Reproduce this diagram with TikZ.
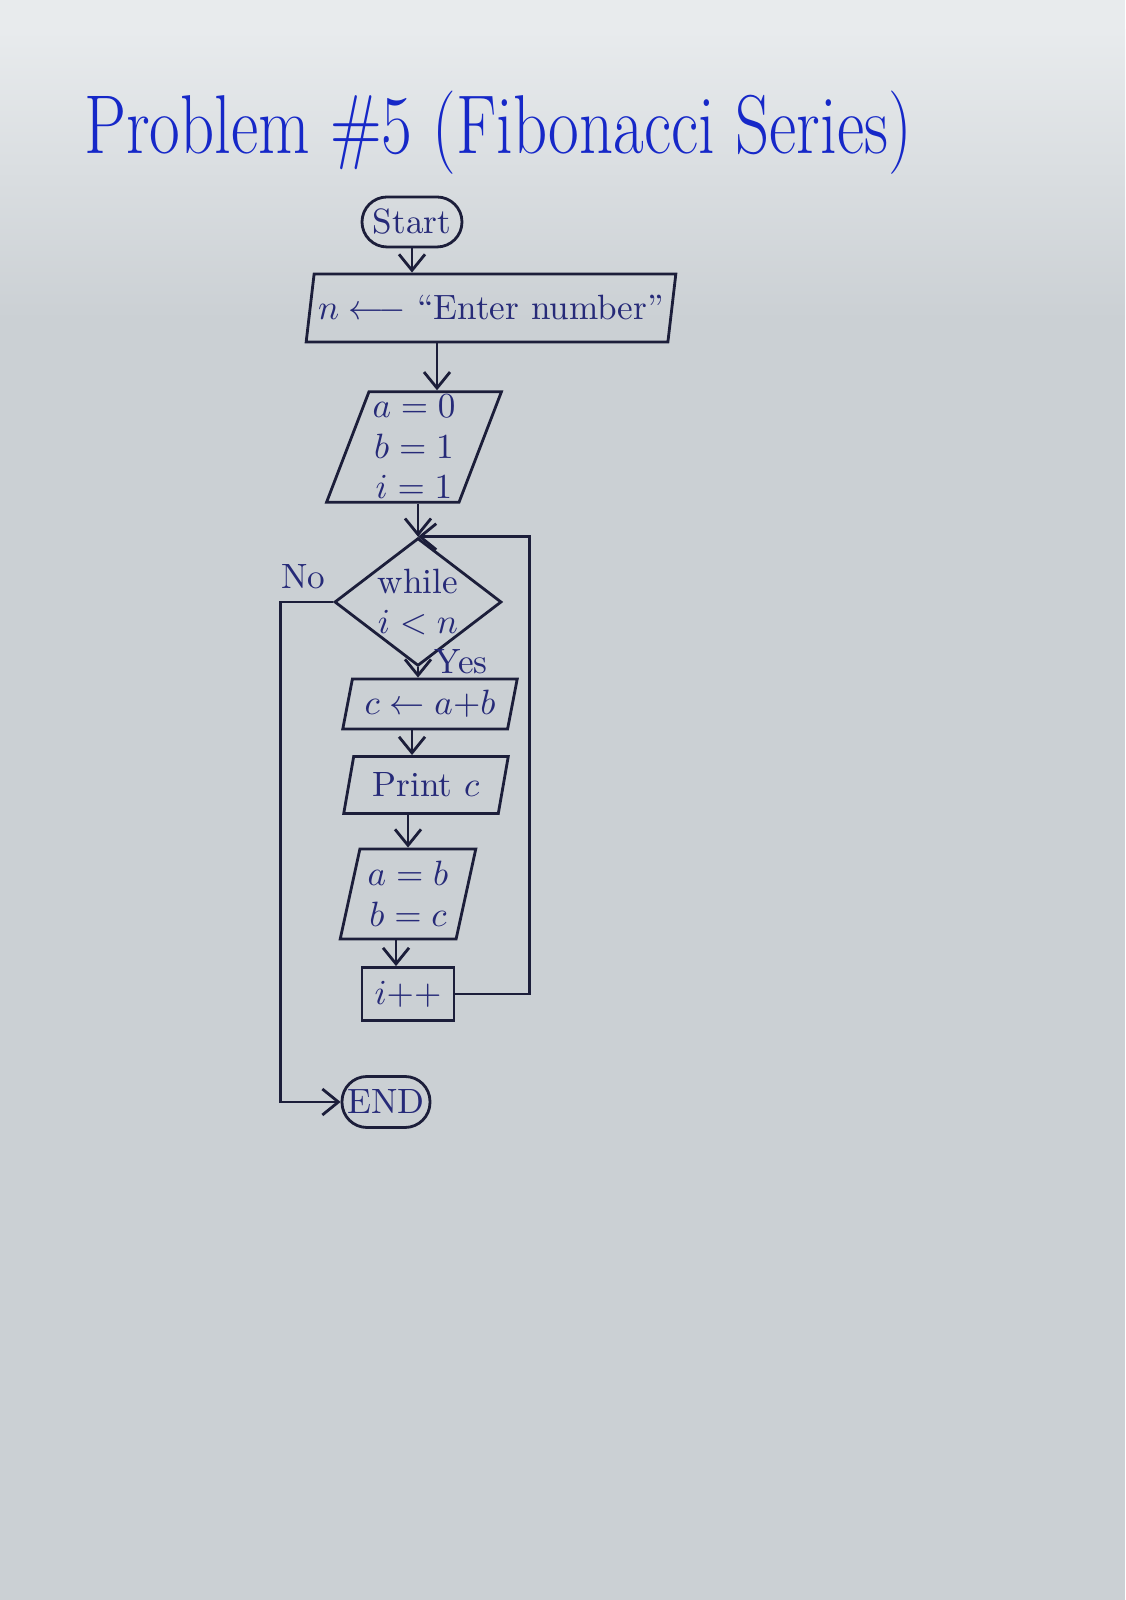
\documentclass[tikz,border=0pt]{standalone}
\usepackage{amsmath}
\usepackage{tikz}
\usetikzlibrary{shapes.geometric,arrows.meta,positioning}

\definecolor{paper}{RGB}{203,208,212}
\definecolor{paperlight}{RGB}{232,235,237}
\definecolor{ink}{RGB}{28,30,58}
\definecolor{pen}{RGB}{38,42,120}
\definecolor{titleblue}{RGB}{22,40,200}

\begin{document}
\begin{tikzpicture}[
        ->,
        >={Straight Barb[length=1.6mm,width=2.6mm]},
        line width=0.8pt,
        ink,
        every node/.style={text=pen, align=center, font=\fontsize{10}{11.5}\selectfont},
        term/.style={draw=ink, rectangle, rounded corners=2.5mm, inner sep=1pt},
        io/.style={draw=ink, trapezium, trapezium left angle=76, trapezium right angle=104,
                   trapezium stretches=true, inner sep=1pt},
        proc/.style={draw=ink, rectangle, inner sep=1pt},
        cond/.style={draw=ink, diamond, aspect=1.3, inner sep=0pt}
    ]
    % sheet of paper
    \fill[paper, -] (0,0) rectangle (11.25,16);
    \shade[-, top color=paperlight, bottom color=paper] (0,12.8) rectangle (11.25,15.7);
    \fill[paperlight, -] (0,15.7) rectangle (11.25,16);
    \useasboundingbox (0,0) rectangle (11.25,16);

    \node[font=\fontsize{19}{22}\selectfont, text=titleblue, yscale=1.25] (T) at (4.98,14.67)
        {Problem \#5 (Fibonacci Series)};

    \node[term, minimum width=1cm, minimum height=0.5cm] (S) at (4.12,13.78) {Start};
    \node[io, minimum width=3.7cm, minimum height=0.68cm] (N) [below of=S, node distance=0.86cm, xshift=0.79cm]
        {$n \longleftarrow$ ``Enter number''};
    \node[io, trapezium left angle=69, trapezium right angle=111, minimum width=1.59cm, minimum height=1.1cm]
        (I) [below of=N, node distance=1.39cm, xshift=-0.77cm] {$a=0$\\$b=1$\\$i=1$};
    \node[cond, minimum width=1.67cm, minimum height=1.26cm] (W) [below of=I, node distance=1.55cm, xshift=0.04cm]
        {while\\$i<n$};
    \node[io, minimum width=1.75cm, minimum height=0.5cm] (C) [below of=W, node distance=1.02cm, xshift=0.12cm]
        {$c \leftarrow a{+}b$};
    \node[io, minimum width=1.65cm, minimum height=0.57cm] (P) [below of=C, node distance=0.81cm, xshift=-0.04cm]
        {Print $c$};
    \node[io, minimum width=1.36cm, minimum height=0.9cm] (AB) [below of=P, node distance=1.09cm, xshift=-0.18cm]
        {$a=b$\\$b=c$};
    \node[proc, minimum width=0.92cm, minimum height=0.53cm] (INC) [below of=AB, node distance=1.0cm]
        {$i{+}{+}$};
    \node[term, minimum width=0.88cm, minimum height=0.51cm] (E) [below of=INC, node distance=1.08cm, xshift=-0.22cm]
        {END};

        % main flow
        \path (S.south) edge (S.south |- N.north)
            ([xshift=0.23cm]I.north |- N.south) edge ([xshift=0.23cm]I.north)
            (W.north |- I.south) edge (W.north)
            (W.south) edge node[right, pos=0.0, xshift=0.12cm, yshift=0.06cm, inner sep=1pt] {Yes} (W.south |- C.north)
            ([xshift=-0.18cm]C.south) edge ([xshift=-0.18cm]C.south |- P.north)
            (AB.north |- P.south) edge (AB.north)
            ([xshift=-0.12cm]AB.south) edge ([xshift=-0.12cm]AB.south |- INC.north);

        % loop back
        \draw (INC.east) -- ++(0.74,0) |- (W.north);

        % exit
        \draw (W.west) node[above left, xshift=0.05cm] {No} -- ++(-0.53,0) |- (E.west);

\end{tikzpicture}
\end{document}
